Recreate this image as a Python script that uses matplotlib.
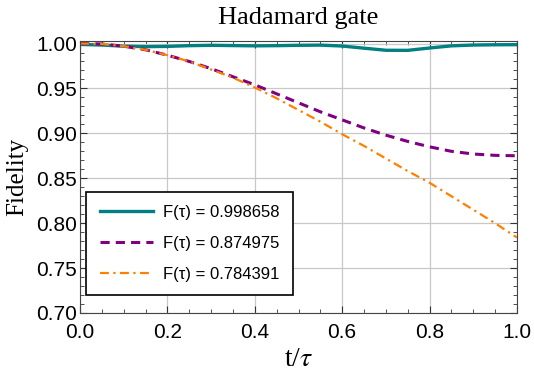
import matplotlib.pyplot as plt
from matplotlib.ticker import MultipleLocator

t = [0.0, 0.05, 0.1, 0.15, 0.2, 0.25, 0.3, 0.35, 0.4, 0.45, 0.5,
     0.55, 0.6, 0.65, 0.7, 0.75, 0.8, 0.85, 0.9, 0.95, 1.0]
fid_a = [0.9990, 0.9983, 0.9970, 0.9965, 0.9968, 0.9976, 0.9980, 0.9977, 0.9974, 0.9976, 0.9980,
         0.9982, 0.9972, 0.9948, 0.9925, 0.9924, 0.9950, 0.9974, 0.9983, 0.9986, 0.9987]
fid_b = [1.0, 0.9995, 0.997, 0.993, 0.987, 0.980, 0.972, 0.963, 0.954, 0.944, 0.934,
         0.924, 0.915, 0.906, 0.898, 0.891, 0.885, 0.880, 0.877, 0.8755, 0.875]
fid_c = [1.0, 0.9995, 0.997, 0.993, 0.987, 0.980, 0.971, 0.962, 0.951, 0.939, 0.926,
         0.913, 0.899, 0.886, 0.872, 0.858, 0.845, 0.830, 0.815, 0.800, 0.784]
labels = ["F(τ) = 0.998658", "F(τ) = 0.874975", "F(τ) = 0.784391"]

plt.rcParams['font.family'] = ['Liberation Sans', 'DejaVu Sans']
plt.rcParams['mathtext.fontset'] = 'stix'

fig = plt.figure(figsize=(5.34, 3.78), dpi=100)
ax = fig.add_axes([0.150, 0.172, 0.818, 0.720])

ax.plot(t, fid_a, color='#008080', lw=2.4, label=labels[0])
ax.plot(t, fid_b, color='#800080', lw=2.2, ls=(0, (3.0, 2.0)), label=labels[1])
ax.plot(t, fid_c, color='#FF8000', lw=1.6, ls=(0, (4, 2, 1, 2)), label=labels[2])

ax.set_xlim(0, 1)
ax.set_ylim(0.70, 1.003)
ax.xaxis.set_major_locator(MultipleLocator(0.2))
ax.xaxis.set_minor_locator(MultipleLocator(0.05))
ax.yaxis.set_major_locator(MultipleLocator(0.05))
ax.yaxis.set_minor_locator(MultipleLocator(0.01))
ax.xaxis.set_major_formatter(plt.FormatStrFormatter('%.1f'))
ax.yaxis.set_major_formatter(plt.FormatStrFormatter('%.2f'))
ax.tick_params(which='both', direction='in', top=True, right=True, labelsize=15, colors='#333333',
               labelcolor='black')
ax.tick_params(which='major', length=5, pad=2)
ax.tick_params(which='minor', length=3)
ax.tick_params(axis='x', which='major', pad=7)
ax.grid(True, which='major', color='#c8c8c8', lw=0.9)
for s in ax.spines.values():
    s.set_color('#444444')

ax.set_title("Hadamard gate", family='Liberation Serif', fontsize=19, pad=12)
ax.set_xlabel("t/$\\tau$", family='Liberation Serif', fontsize=20, labelpad=4)
ax.set_ylabel("Fidelity", family='Liberation Serif', fontsize=18, labelpad=6)

leg = ax.legend(loc='lower left', bbox_to_anchor=(0.014, 0.066), borderaxespad=0,
                fontsize=12, fancybox=False, framealpha=1, edgecolor='black',
                handlelength=3.2, labelspacing=0.95, borderpad=0.8, handletextpad=0.6)
leg.get_frame().set_linewidth(1.2)

fig.savefig("out.png", dpi=100)
